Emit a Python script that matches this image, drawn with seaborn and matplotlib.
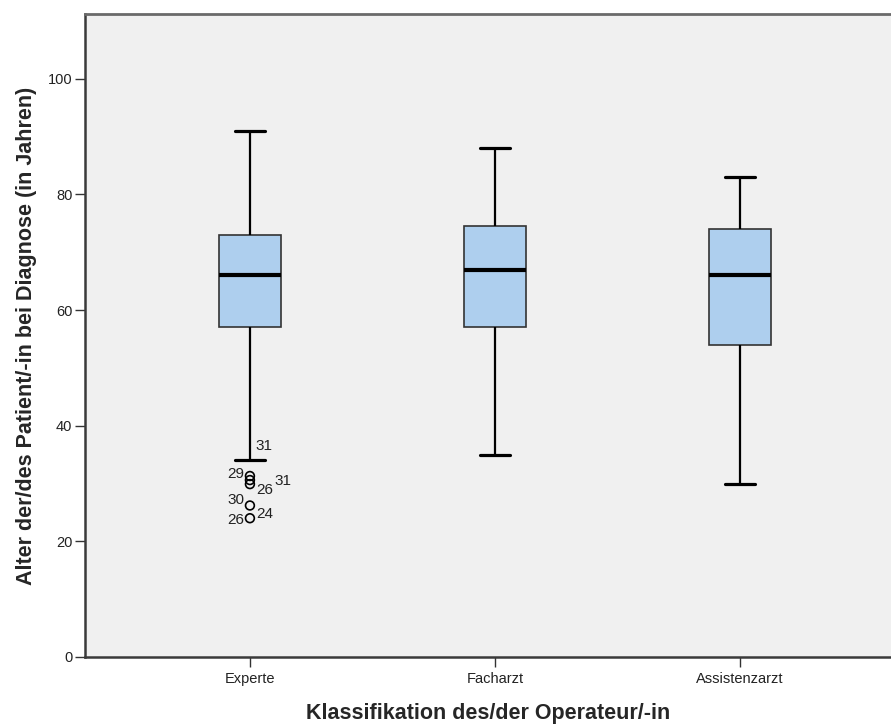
import matplotlib
matplotlib.use("Agg")
import matplotlib.pyplot as plt
import pandas as pd
import seaborn as sns

# Fünf-Punkte-Zusammenfassung je Gruppe
categories = ["Experte", "Facharzt", "Assistenzarzt"]
whisker_low = [34, 35, 30]
q1 = [57, 57, 54]
median = [66, 67, 66]
q3 = [73, 74.5, 74]
whisker_high = [91, 88, 83]

# Ausreißer der Gruppe "Experte"
outlier_values = [31.3, 30.6, 29.9, 26.2, 24.0]

# Fallbeschriftungen: (Text, Bezugswert)
case_labels = ["31", "29", "31", "26", "30", "24", "26"]
case_anchor = [34, 31.3, 31.3, 29.9, 26.2, 26.2, 24.0]
case_offset = [(14, 14), (-14, 2), (33, -5), (15, -6), (-14, 6), (15, -8), (-14, -2)]

BOX_COLOR = "#aecfee"
BG_COLOR = "#f0f0f0"

rows = []
for i, cat in enumerate(categories):
    for v in (whisker_low[i], q1[i], median[i], q3[i], whisker_high[i]):
        rows.append({"Klassifikation": cat, "Alter": v})
df = pd.DataFrame(rows)

sns.set_theme(style="white")
plt.rcParams["font.family"] = ["Liberation Sans", "DejaVu Sans"]

fig = plt.figure(figsize=(8.91, 7.24), dpi=100)
ax = fig.add_axes([85 / 891, 67 / 724, (891 - 85) / 891, (657 - 14) / 724])
ax.set_facecolor(BG_COLOR)

sns.boxplot(
    data=df, x="Klassifikation", y="Alter", order=categories,
    width=0.25, color=BOX_COLOR, saturation=1, showfliers=False,
    linecolor="#333333", linewidth=1.2,
    medianprops=dict(color="black", linewidth=3),
    whiskerprops=dict(color="black", linewidth=1.6),
    capprops=dict(color="black", linewidth=2.3),
    ax=ax,
)

x0 = categories.index("Experte")
ax.scatter([x0] * len(outlier_values), outlier_values, s=40,
           facecolors="none", edgecolors="black", linewidths=1.2, zorder=5)

for text, val, (dx, dy) in zip(case_labels, case_anchor, case_offset):
    ax.annotate(text, xy=(x0, val), xytext=(dx, dy), textcoords="offset pixels",
                ha="center", va="center", fontsize=11, color="#222222")

ax.set_xlim(-0.673, 2.616)
ax.set_ylim(0, 111.2)
ax.set_yticks([0, 20, 40, 60, 80, 100])

ax.set_xlabel("Klassifikation des/der Operateur/-in", fontsize=15.5, fontweight="bold", labelpad=12)
ax.set_ylabel("Alter der/des Patient/-in bei Diagnose (in Jahren)", fontsize=15.5,
              fontweight="bold", labelpad=8)

ax.tick_params(axis="both", direction="out", length=7, width=1, color="#333333",
               labelsize=10.5, labelcolor="#222222", bottom=True, left=True)
ax.tick_params(axis="x", pad=4)
ax.tick_params(axis="y", pad=2)

for side in ["left", "bottom"]:
    ax.spines[side].set_color("#3a3a3a")
    ax.spines[side].set_linewidth(1.8)
ax.spines["top"].set_color("#6a6a6a")
ax.spines["top"].set_linewidth(2)
ax.spines["right"].set_visible(False)

fig.savefig("out.png", dpi=100)
plt.close(fig)
